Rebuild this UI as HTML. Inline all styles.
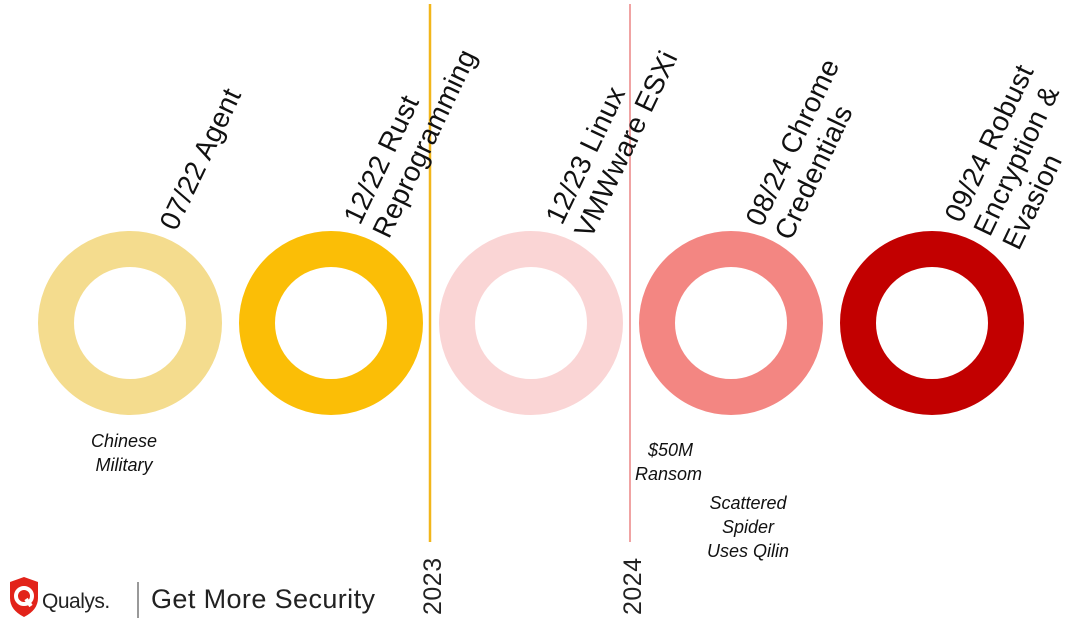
<!DOCTYPE html>
<html><head><style>
body{margin:0;background:#fff;}
svg{display:block;font-family:"Liberation Sans",sans-serif;}
</style></head><body>
<svg width="1070" height="635" viewBox="0 0 1070 635">
<rect width="1070" height="635" fill="#fff"/>
<line x1="430" y1="4" x2="430" y2="542" stroke="#f2b61a" stroke-width="2.5"/>
<line x1="630" y1="4" x2="630" y2="542" stroke="#f0a3a3" stroke-width="2"/>
<g fill="none" stroke-width="36">
<circle cx="130" cy="323" r="74" stroke="#f4dc8e"/>
<circle cx="331" cy="323" r="74" stroke="#fbbe06"/>
<circle cx="531" cy="323" r="74" stroke="#fad5d5"/>
<circle cx="731" cy="323" r="74" stroke="#f38682"/>
<circle cx="932" cy="323" r="74" stroke="#c20000"/>
</g>
<g font-size="28" fill="#111" letter-spacing="0.3">
<text transform="translate(176,232) rotate(-64.5)">07/22 Agent</text>
<text transform="translate(360,226) rotate(-64.5)"><tspan x="0">12/22 Rust</tspan><tspan x="0" dy="32">Reprogramming</tspan></text>
<text transform="translate(562,226) rotate(-64.5)"><tspan x="0">12/23 Linux</tspan><tspan x="0" dy="32">VMWware ESXi</tspan></text>
<text transform="translate(762,228) rotate(-64.5)"><tspan x="0">08/24 Chrome</tspan><tspan x="0" dy="32">Credentials</tspan></text>
<text transform="translate(961,224) rotate(-64.5)"><tspan x="0">09/24 Robust</tspan><tspan x="0" dy="32">Encryption &amp;</tspan><tspan x="0" dy="32">Evasion</tspan></text>
</g>
<g font-size="18" font-style="italic" fill="#111">
<text x="124" y="447" text-anchor="middle">Chinese</text><text x="124" y="471" text-anchor="middle">Military</text>
<text x="648" y="456">$50M</text><text x="635" y="480">Ransom</text>
<text x="748" y="509" text-anchor="middle">Scattered</text><text x="748" y="533" text-anchor="middle">Spider</text><text x="748" y="557" text-anchor="middle">Uses Qilin</text>
</g>
<g font-size="25" fill="#222" letter-spacing="0.5">
<text transform="translate(441,615) rotate(-90)">2023</text>
<text transform="translate(641,615) rotate(-90)">2024</text>
</g>
<path d="M10 582 L24 577 L38 582 L38 598 Q38 610 24 617 Q10 610 10 598 Z" fill="#e2231a"/>
<circle cx="24" cy="596" r="8" fill="none" stroke="#fff" stroke-width="4"/>
<line x1="26" y1="599" x2="31" y2="606" stroke="#fff" stroke-width="4"/>
<text x="42" y="608" font-size="21" fill="#222" letter-spacing="-0.5">Qualys.</text>
<line x1="138" y1="582" x2="138" y2="618" stroke="#555" stroke-width="1.2"/>
<text x="151" y="608" font-size="27" fill="#222" letter-spacing="0.4">Get More Security</text>
</svg>
</body></html>
